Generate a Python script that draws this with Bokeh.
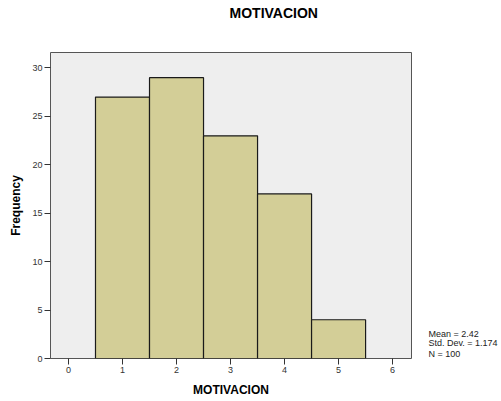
from bokeh.plotting import figure
from bokeh.models import Range1d, FixedTicker, LinearAxis
from bokeh.embed import file_html
from bokeh.resources import INLINE

title_text = "MOTIVACION"
title_pos = [3.8]
x_label = "MOTIVACION"
y_label = "Frequency"
bin_centers = [1, 2, 3, 4, 5]
frequencies = [27, 29, 23, 17, 4]
x_ticks = [0, 1, 2, 3, 4, 5, 6]
y_ticks = [0, 5, 10, 15, 20, 25, 30]
stats_lines = ["Mean = 2.42", "Std. Dev. = 1.174", "N = 100"]
stats_pos = [2.58, 1.55, 0.48]

FONT = "Liberation Sans"

p = figure(frame_width=361, frame_height=306,
           min_border_left=50, min_border_right=85, min_border_top=52, min_border_bottom=40,
           x_range=Range1d(-0.333, 6.35), y_range=Range1d(0, 31.6),
           output_backend="svg", toolbar_location=None,
           background_fill_color="#EEEEEE", border_fill_color="white")

p.quad(left=[c - 0.5 for c in bin_centers], right=[c + 0.5 for c in bin_centers],
       bottom=0, top=frequencies, fill_color="#D3CE97", line_color="#1A1A1A", line_width=1.2)

p.grid.visible = False
p.outline_line_color = "#555555"
p.outline_line_width = 1

for ax in (p.xaxis[0], p.yaxis[0]):
    ax.axis_line_color = None
    ax.minor_tick_line_color = None
    ax.major_tick_in = 0
    ax.major_tick_out = 6
    ax.major_tick_line_color = "#333333"
    ax.major_label_text_font = FONT
    ax.major_label_text_font_size = "9px"
    ax.major_label_text_color = "#333333"
    ax.major_label_standoff = 2
    ax.axis_label_text_font = FONT
    ax.axis_label_text_font_style = "bold"
    ax.axis_label_text_font_size = "12px"
    ax.axis_label_text_color = "black"

p.xaxis.ticker = FixedTicker(ticks=x_ticks)
p.yaxis.ticker = FixedTicker(ticks=y_ticks)
p.xaxis.axis_label = x_label
p.yaxis.axis_label = y_label
p.xaxis.axis_label_standoff = 7
p.yaxis.axis_label_standoff = 6

# chart title drawn as a single label above the frame
title_axis = LinearAxis(ticker=FixedTicker(ticks=title_pos),
                        major_label_overrides={title_pos[0]: title_text},
                        axis_line_color=None, major_tick_line_color=None,
                        minor_tick_line_color=None, major_tick_in=0, major_tick_out=0,
                        major_label_standoff=32, major_label_text_font=FONT,
                        major_label_text_font_style="bold",
                        major_label_text_font_size="14px", major_label_text_color="black")
p.add_layout(title_axis, "above")

stats_axis = LinearAxis(ticker=FixedTicker(ticks=stats_pos),
                        major_label_overrides={v: t for v, t in zip(stats_pos, stats_lines)},
                        axis_line_color=None, major_tick_line_color=None,
                        minor_tick_line_color=None, major_tick_in=0, major_tick_out=0,
                        major_label_standoff=17, major_label_text_font=FONT,
                        major_label_text_font_size="9px", major_label_text_color="#222222")
p.add_layout(stats_axis, "right")

open("out.html", "w").write(file_html(p, INLINE))
